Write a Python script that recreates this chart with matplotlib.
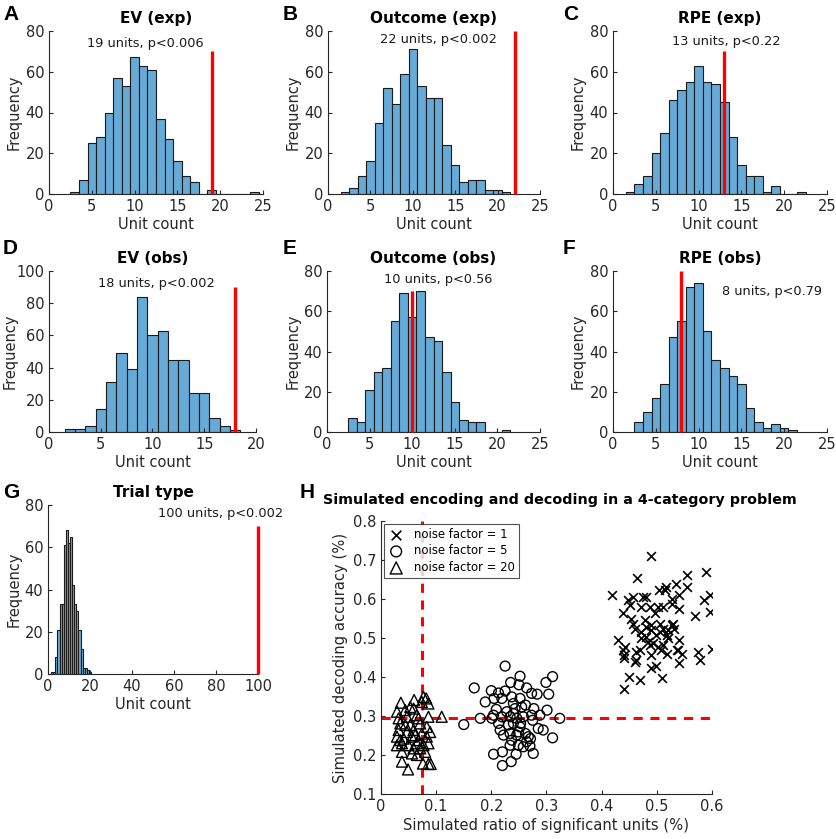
import matplotlib
matplotlib.use("Agg")
import matplotlib.pyplot as plt
import numpy as np

plt.rcParams['font.family'] = ['DejaVu Sans']

# ---------------- data ----------------
# histogram bin centres (width 1) and counts
a_centers = list(range(3, 25))
a_counts = [1, 7, 25, 28, 40, 57, 53, 67, 63, 61, 37, 27, 16, 9, 6, 0, 2, 0, 0, 0, 0, 1]
b_centers = list(range(2, 22))
b_counts = [1, 3, 9, 16, 35, 52, 44, 59, 71, 53, 47, 47, 24, 14, 6, 7, 7, 2, 2, 1]
c_centers = list(range(2, 23))
c_counts = [1, 5, 9, 20, 30, 46, 51, 55, 63, 55, 54, 45, 28, 14, 9, 9, 1, 4, 0, 0, 1]
d_centers = list(range(2, 19))
d_counts = [2, 2, 4, 14, 31, 49, 39, 84, 60, 63, 45, 45, 24, 24, 9, 4, 1]
e_centers = list(range(3, 22))
e_counts = [7, 5, 21, 30, 32, 55, 69, 57, 70, 47, 45, 30, 15, 6, 5, 5, 0, 0, 1]
f_centers = list(range(3, 22))
f_counts = [5, 10, 17, 24, 47, 55, 72, 74, 50, 36, 32, 28, 24, 12, 5, 2, 4, 2, 1]
g_centers = list(range(2, 21))
g_counts = [1, 1, 8, 21, 33, 33, 61, 68, 62, 65, 42, 33, 30, 21, 12, 3, 3, 2, 1]

titles = ["EV (exp)", "Outcome (exp)", "RPE (exp)", "EV (obs)", "Outcome (obs)", "RPE (obs)", "Trial type"]
letters = ["A", "B", "C", "D", "E", "F", "G"]
observed = [19, 22, 13, 18, 10, 8, 100]
line_tops = [70, 80, 70, 90, 70, 80, 70]
annotations = ["19 units, p<0.006", "22 units, p<0.002", "13 units, p<0.22",
               "18 units, p<0.002", "10 units, p<0.56", "8 units, p<0.79",
               "100 units, p<0.002"]
ann_pos = [(11.3, 74), (13.0, 76), (13.2, 75), (10.4, 92), (13.0, 76), (18.6, 70), (82, 76)]

# H scatter
x_nf1 = [0.489, 0.464, 0.590, 0.555, 0.419, 0.534, 0.517, 0.514, 0.504, 0.555, 0.540, 0.585,
         0.596, 0.596, 0.569, 0.540, 0.527, 0.439, 0.448, 0.457, 0.451, 0.475, 0.481, 0.472,
         0.487, 0.502, 0.496, 0.460, 0.478, 0.481, 0.472, 0.490, 0.490, 0.505, 0.511, 0.520,
         0.527, 0.530, 0.531, 0.505, 0.518, 0.481, 0.472, 0.484, 0.487, 0.493, 0.430, 0.442,
         0.439, 0.440, 0.440, 0.463, 0.469, 0.463, 0.460, 0.490, 0.502, 0.511, 0.518, 0.508,
         0.536, 0.540, 0.539, 0.545, 0.540, 0.489, 0.499, 0.575, 0.579, 0.600, 0.449, 0.469,
         0.509, 0.441, 0.520, 0.499, 0.457, 0.454, 0.527, 0.511]
y_nf1 = [0.709, 0.653, 0.668, 0.661, 0.611, 0.638, 0.631, 0.622, 0.622, 0.631, 0.610, 0.598,
         0.609, 0.566, 0.557, 0.575, 0.588, 0.563, 0.597, 0.605, 0.584, 0.605, 0.605, 0.580,
         0.580, 0.580, 0.563, 0.524, 0.546, 0.528, 0.516, 0.533, 0.520, 0.537, 0.524, 0.520,
         0.533, 0.537, 0.524, 0.516, 0.507, 0.503, 0.499, 0.490, 0.481, 0.486, 0.494, 0.477,
         0.469, 0.456, 0.449, 0.464, 0.469, 0.443, 0.439, 0.456, 0.477, 0.481, 0.460, 0.469,
         0.469, 0.494, 0.469, 0.460, 0.437, 0.422, 0.428, 0.463, 0.443, 0.471, 0.400, 0.392,
         0.398, 0.370, 0.499, 0.507, 0.537, 0.550, 0.601, 0.580]
x_nf5 = [0.225, 0.169, 0.252, 0.311, 0.299, 0.235, 0.264, 0.200, 0.213, 0.225, 0.250, 0.273,
         0.283, 0.304, 0.189, 0.205, 0.219, 0.237, 0.252, 0.240, 0.262, 0.277, 0.301, 0.209,
         0.228, 0.243, 0.204, 0.180, 0.150, 0.201, 0.219, 0.234, 0.246, 0.258, 0.273, 0.288,
         0.324, 0.213, 0.231, 0.240, 0.252, 0.275, 0.285, 0.294, 0.216, 0.234, 0.222, 0.246,
         0.262, 0.267, 0.264, 0.271, 0.311, 0.237, 0.234, 0.249, 0.258, 0.270, 0.204, 0.220,
         0.245, 0.276, 0.236, 0.220, 0.253, 0.240, 0.255, 0.249]
y_nf5 = [0.428, 0.372, 0.402, 0.401, 0.386, 0.386, 0.372, 0.365, 0.359, 0.364, 0.380, 0.358,
         0.356, 0.356, 0.336, 0.345, 0.345, 0.349, 0.345, 0.332, 0.328, 0.319, 0.315, 0.317,
         0.311, 0.319, 0.302, 0.294, 0.278, 0.294, 0.298, 0.298, 0.294, 0.298, 0.302, 0.302,
         0.294, 0.281, 0.277, 0.281, 0.272, 0.289, 0.268, 0.264, 0.264, 0.255, 0.251, 0.251,
         0.255, 0.247, 0.234, 0.242, 0.244, 0.238, 0.225, 0.225, 0.221, 0.223, 0.202, 0.208,
         0.202, 0.204, 0.183, 0.173, 0.281, 0.306, 0.323, 0.259]
x_nf20 = [0.036, 0.060, 0.077, 0.082, 0.086, 0.029, 0.044, 0.059, 0.110, 0.032, 0.047, 0.065,
          0.086, 0.035, 0.053, 0.071, 0.083, 0.089, 0.032, 0.047, 0.059, 0.074, 0.029, 0.041,
          0.056, 0.068, 0.083, 0.029, 0.038, 0.050, 0.065, 0.077, 0.086, 0.038, 0.059, 0.065,
          0.080, 0.038, 0.076, 0.086, 0.090, 0.049, 0.074, 0.053, 0.068, 0.044, 0.062, 0.035,
          0.071, 0.056]
y_nf20 = [0.334, 0.341, 0.349, 0.345, 0.332, 0.311, 0.315, 0.319, 0.298, 0.294, 0.298, 0.302,
          0.298, 0.281, 0.277, 0.281, 0.272, 0.259, 0.264, 0.259, 0.264, 0.255, 0.247, 0.242,
          0.247, 0.238, 0.247, 0.225, 0.230, 0.225, 0.230, 0.225, 0.230, 0.208, 0.217, 0.200,
          0.208, 0.183, 0.178, 0.177, 0.177, 0.163, 0.336, 0.323, 0.294, 0.277, 0.251, 0.238,
          0.217, 0.204]
h_vline = 0.075
h_hline = 0.295

# ---------------- figure ----------------
W, H = 837, 839
fig = plt.figure(figsize=(W / 100, H / 100), dpi=100)

def rect(left, top, right, bottom):
    return [left / W, 1 - bottom / H, (right - left) / W, (bottom - top) / H]

rects = [rect(49, 31, 263, 194), rect(328, 31, 540, 194), rect(613, 31, 827, 194),
         rect(49, 271, 256, 432), rect(327, 271, 540, 432), rect(613, 271, 827, 432),
         rect(48, 505, 258, 674)]
ylabel_x = [22, 301, 586, 18, 301, 586, 22]
xlims = [25, 25, 25, 20, 25, 25, 100]
ylims = [80, 80, 80, 100, 80, 80, 80]
xticks = [np.arange(0, 26, 5)] * 3 + [np.arange(0, 21, 5)] + [np.arange(0, 26, 5)] * 2 + [np.arange(0, 101, 20)]
yticks = [np.arange(0, 81, 20)] * 3 + [np.arange(0, 101, 20)] + [np.arange(0, 81, 20)] * 3
centers = [a_centers, b_centers, c_centers, d_centers, e_centers, f_centers, g_centers]
counts = [a_counts, b_counts, c_counts, d_counts, e_counts, f_counts, g_counts]

bar_color = "#66aad7"
axis_color = "#262626"

def style(ax):
    for s in ["top", "right"]:
        ax.spines[s].set_visible(False)
    for s in ["left", "bottom"]:
        ax.spines[s].set_color(axis_color)
        ax.spines[s].set_linewidth(0.8)
    ax.tick_params(direction="in", length=3, width=0.8, colors=axis_color,
                   labelsize=10.5, labelcolor=axis_color)

for i in range(7):
    ax = fig.add_axes(rects[i])
    ax.bar(centers[i], counts[i], width=1.0, color=bar_color, edgecolor="#1a1a1a",
           linewidth=0.8, align="center")
    ax.plot([observed[i], observed[i]], [0, line_tops[i]], color="red", lw=2.4,
            solid_capstyle="butt", zorder=5, clip_on=False)
    ax.set_xlim(0, xlims[i])
    ax.set_ylim(0, ylims[i])
    ax.set_xticks(xticks[i])
    ax.set_yticks(yticks[i])
    style(ax)
    ax.set_xlabel("Unit count", fontsize=10.5, color=axis_color, labelpad=2)
    ax.set_ylabel("Frequency", fontsize=10.5, color=axis_color)
    ax.yaxis.set_label_coords((ylabel_x[i] - rects[i][0] * W) / (rects[i][2] * W), 0.5)
    ax.set_title(titles[i], fontsize=11, fontweight="bold", pad=6)
    ax.text(ann_pos[i][0], ann_pos[i][1], annotations[i], ha="center", va="center",
            fontsize=9.3, color="#1a1a1a")

# panel letters
letter_pos = [(3, 14), (283, 14), (563, 14), (3, 248), (283, 248), (563, 248), (3, 493)]
for (lx, ly), L in zip(letter_pos, letters):
    fig.text(lx / W, 1 - ly / H, L, fontsize=15, fontweight="bold", ha="left", va="center",
             family=["Liberation Sans", "DejaVu Sans"])
fig.text(300 / W, 1 - 492 / H, "H", fontsize=15, fontweight="bold", ha="left", va="center",
         family=["Liberation Sans", "DejaVu Sans"])

# panel H
axh = fig.add_axes(rect(381, 521, 712, 794))
axh.scatter(x_nf1, y_nf1, marker="x", s=40, c="black", linewidths=1.2, label="noise factor = 1", zorder=3)
axh.scatter(x_nf5, y_nf5, marker="o", s=50, facecolors="none", edgecolors="black", linewidths=1.0,
            label="noise factor = 5", zorder=3)
axh.scatter(x_nf20, y_nf20, marker="^", s=62, facecolors="none", edgecolors="black", linewidths=1.0,
            label="noise factor = 20", zorder=3)
axh.axvline(h_vline, color="red", ls=(0, (3, 2.5)), lw=2.2, zorder=2)
axh.axhline(h_hline, color="red", ls=(0, (3, 2.5)), lw=2.2, zorder=2)
axh.set_xlim(0, 0.6)
axh.set_ylim(0.1, 0.8)
axh.set_xticks(np.arange(0, 0.61, 0.1))
axh.set_xticklabels(["0", "0.1", "0.2", "0.3", "0.4", "0.5", "0.6"])
axh.set_yticks(np.arange(0.1, 0.81, 0.1))
axh.set_yticklabels(["0.1", "0.2", "0.3", "0.4", "0.5", "0.6", "0.7", "0.8"])
style(axh)
axh.set_xlabel("Simulated ratio of significant units (%)", fontsize=10.6, color=axis_color, labelpad=3)
axh.set_ylabel("Simulated decoding accuracy (%)", fontsize=10.6, color=axis_color, labelpad=3)
axh.set_title("Simulated encoding and decoding in a 4-category problem", fontsize=10.3,
              fontweight="bold", pad=12, x=0.54)
leg = axh.legend(loc="upper left", fontsize=8.4, frameon=True, fancybox=False,
                 edgecolor=axis_color, borderaxespad=0.25, handletextpad=0.8,
                 labelspacing=0.3, borderpad=0.35, handlelength=1.4, markerscale=1.1)
leg.get_frame().set_linewidth(0.8)

fig.savefig("out.png", dpi=100)
